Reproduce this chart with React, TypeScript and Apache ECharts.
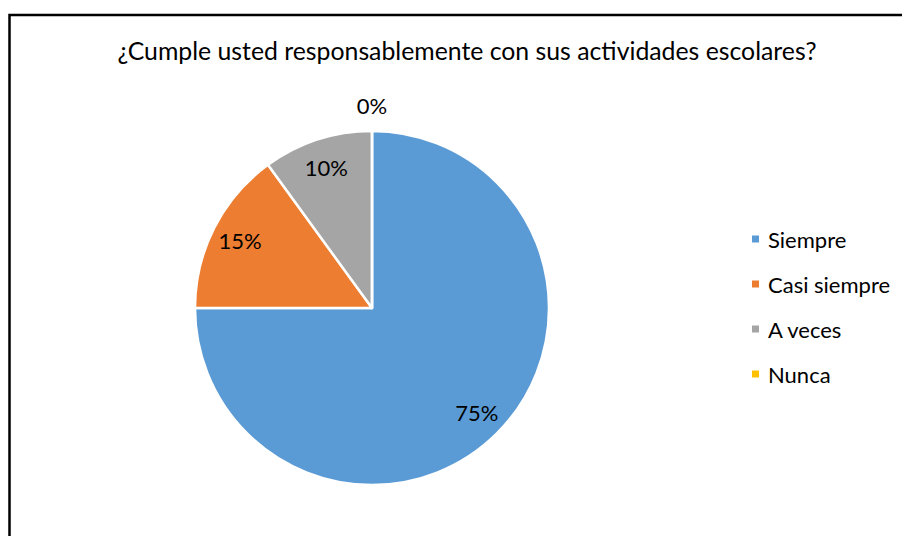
import React, { useEffect, useRef } from "react";
import * as echarts from "echarts";

const title = "¿Cumple usted responsablemente con sus actividades escolares?";
const categories = ["Siempre", "Casi siempre", "A veces", "Nunca"];
const values = [75, 15, 10, 0];
const colors = ["#5B9BD5", "#ED7D31", "#A5A5A5", "#FFC000"];

const FONT = "Lato, 'Open Sans', sans-serif";

export default function App() {
  const ref = useRef<HTMLDivElement>(null);
  useEffect(() => {
    document.body.style.margin = "0";
    document.body.style.overflow = "hidden";
    const chart = echarts.init(ref.current!, undefined, { renderer: "svg" });
    const R = 177;
    const center = [372, 308];
    const data = categories.map((c, i) => ({ name: c, value: values[i], itemStyle: { color: colors[i] } }));
    const fmt = (p: any) => `${p.value}%`;
    chart.setOption({
      animation: false,
      backgroundColor: "#fff",
      title: {
        text: title,
        left: 462,
        textAlign: "center",
        top: 33,
        textStyle: { fontFamily: FONT, fontSize: 24.8, fontWeight: "normal", color: "#000" },
      },
      legend: {
        orient: "vertical",
        left: 745,
        top: 223,
        itemWidth: 9,
        itemHeight: 9,
        itemGap: 23,
        icon: "rect",
        data: categories,
        textStyle: { fontFamily: FONT, fontSize: 22, color: "#000", padding: [0, 0, 0, 3] },
      },
      graphic: [
        {
          type: "rect",
          shape: { x: 9.5, y: 15, width: 1200, height: 1200 },
          style: { fill: "none", stroke: "#000", lineWidth: 2.5 },
          silent: true,
        },
      ],
      series: [
        {
          type: "pie",
          name: "main",
          center,
          radius: [0, R],
          startAngle: 90,
          clockwise: true,
          data,
          label: { show: false },
          labelLine: { show: false },
          itemStyle: { borderColor: "#fff", borderWidth: 2.5 },
          emphasis: { disabled: true },
        },
        {
          type: "pie",
          name: "labelsInside",
          center,
          radius: [R * 0.64, R],
          startAngle: 90,
          clockwise: true,
          silent: true,
          data: data.map((d) => ({
            name: d.name,
            value: d.value,
            itemStyle: { color: "rgba(0,0,0,0)" },
            label: { show: d.value > 0 },
          })),
          itemStyle: { borderWidth: 0 },
          label: { position: "inside", formatter: fmt, fontFamily: FONT, fontSize: 22, color: "#000" },
          labelLine: { show: false },
          emphasis: { disabled: true },
        },
        {
          type: "pie",
          name: "labelsOutside",
          center,
          radius: [R, R * 1.25],
          startAngle: 90,
          clockwise: true,
          silent: true,
          data: data.map((d) => ({
            name: d.name,
            value: d.value,
            itemStyle: { color: "rgba(0,0,0,0)" },
            label: { show: d.value === 0 },
          })),
          itemStyle: { borderWidth: 0 },
          label: { position: "inside", formatter: fmt, fontFamily: FONT, fontSize: 22, color: "#000" },
          labelLine: { show: false },
          emphasis: { disabled: true },
        },
      ],
    });
    return () => chart.dispose();
  }, []);
  return <div ref={ref} style={{ position: "fixed", left: 0, top: 0, width: 902, height: 536 }} />;
}
